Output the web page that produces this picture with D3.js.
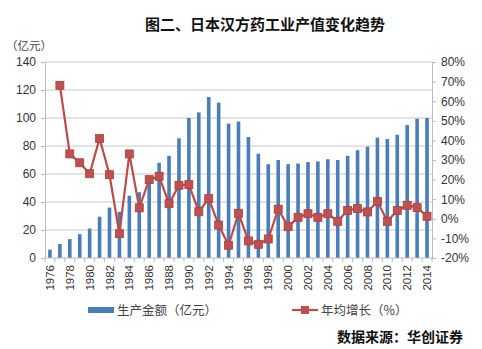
<!DOCTYPE html>
<html><head><meta charset="utf-8">
<script src="https://cdn.jsdelivr.net/npm/d3@7"></script>
<style>body{margin:0;background:#fff;}svg{display:block;}</style>
</head><body>
<script>
const years = d3.range(1976, 2015);
const production = [6,10,13.5,17,21,29.5,36,33,44.5,47,57,68,73,85.5,100,104,115,111,96,97.5,86.4,74.5,67,70,67,67.5,68.5,69,70.5,70,73,77,79.5,86,85,88,95,99.5,100];
const growthYears = d3.range(1977, 2015);
const growth = [68.1,33.1,28.6,23.0,41.0,22.5,-7.6,33.1,5.6,20.0,21.7,7.7,17.1,17.4,3.6,10.3,-3.2,-13.5,2.8,-11.3,-13.0,-10.3,4.9,-4.0,0.7,2.6,0.7,2.6,-1.3,4.3,5.2,3.5,8.9,-1.3,4.2,6.9,5.7,1.3];
const leftTicks = [0,20,40,60,80,100,120,140];
const rightTicks = [-20,-10,0,10,20,30,40,50,60,70,80];
const xLabels = years.filter(y => y % 2 === 0);

const W = 482, H = 349;
const svg = d3.select("body").append("svg").attr("width", W).attr("height", H);
const font = "'Microsoft YaHei','Noto Sans CJK SC',sans-serif";

const x = d3.scaleBand().domain(years).range([45, 432]).paddingInner(0).paddingOuter(0);
const yL = d3.scaleLinear().domain([0,140]).range([258, 62]);
const yR = d3.scaleLinear().domain([-20,80]).range([258, 62]);

// title
svg.append("text").attr("x", 265).attr("y", 30).attr("text-anchor","middle")
  .style("font-family", font).style("font-size","15px").style("font-weight","bold").attr("fill","#111")
  .text("图二、日本汉方药工业产值变化趋势");
svg.append("text").attr("x", 6).attr("y", 50)
  .style("font-family", font).style("font-size","11.5px").attr("fill","#444").text("（亿元）");

// grid
svg.append("g").selectAll("line").data(leftTicks.slice(1)).join("line")
  .attr("x1", 45).attr("x2", 432).attr("y1", d=>yL(d)).attr("y2", d=>yL(d))
  .attr("stroke","#c8c8c8").attr("stroke-width",1);

// left axis
const gl = svg.append("g").attr("transform","translate(45,0)")
  .call(d3.axisLeft(yL).tickValues(leftTicks).tickSize(4).tickSizeOuter(0));
gl.select(".domain").attr("stroke","#bbb");
gl.selectAll(".tick line").attr("stroke","#bbb");
gl.selectAll("text").style("font-family","Arial, 'Liberation Sans', sans-serif").style("font-size","12px").attr("fill","#333").attr("x",-9);

// right axis
const gr = svg.append("g").attr("transform","translate(432,0)")
  .call(d3.axisRight(yR).tickValues(rightTicks).tickFormat(d=>d+"%").tickSize(4).tickSizeOuter(0));
gr.select(".domain").attr("stroke","#bbb");
gr.selectAll(".tick line").attr("stroke","#bbb");
gr.selectAll("text").style("font-family","Arial, 'Liberation Sans', sans-serif").style("font-size","12px").attr("fill","#333").attr("x",9);

// bars
const bw = 3.6;
svg.append("g").selectAll("rect").data(years).join("rect")
  .attr("x", (d)=>x(d)+x.bandwidth()/2-bw/2).attr("width", bw)
  .attr("y", (d,i)=>yL(production[i])).attr("height",(d,i)=>yL(0)-yL(production[i]))
  .attr("fill","#4A7EBB");

// bottom axis
const gb = svg.append("g").attr("transform","translate(0,258)");
gb.append("line").attr("x1",45).attr("x2",432).attr("stroke","#bbb");
gb.selectAll("line.t").data(years.concat([2015])).join("line").attr("class","t")
  .attr("x1",d=> d===2015 ? 432 : x(d)).attr("x2",d=> d===2015 ? 432 : x(d)).attr("y1",0).attr("y2",4).attr("stroke","#bbb");
gb.selectAll("text").data(xLabels).join("text")
  .attr("transform", d=>`translate(${x(d)+x.bandwidth()/2+4},7) rotate(-90)`)
  .attr("text-anchor","end")
  .style("font-family","Arial, 'Liberation Sans', sans-serif").style("font-size","11.5px").attr("fill","#333")
  .text(d=>d);

// line
const lineColor = "#BE4B48";
const line = d3.line().x((d,i)=>x(growthYears[i])+x.bandwidth()/2).y(d=>yR(d));
svg.append("path").datum(growth).attr("d", line).attr("fill","none").attr("stroke",lineColor).attr("stroke-width",2.2);
const ms = 8;
svg.append("g").selectAll("rect").data(growth).join("rect")
  .attr("x",(d,i)=>x(growthYears[i])+x.bandwidth()/2-ms/2).attr("y",d=>yR(d)-ms/2)
  .attr("width",ms).attr("height",ms).attr("fill","#C0504D").attr("stroke","#A9403D").attr("stroke-width",0.8);

// legend
const lg = svg.append("g");
lg.append("rect").attr("x",88).attr("y",307).attr("width",26).attr("height",6).attr("fill","#4A7EBB");
lg.append("text").attr("x",117).attr("y",315).style("font-family",font).style("font-size","12.5px").attr("fill","#444").text("生产金额（亿元）");
lg.append("line").attr("x1",292).attr("x2",318).attr("y1",310).attr("y2",310).attr("stroke",lineColor).attr("stroke-width",2.2);
lg.append("rect").attr("x",301).attr("y",306).attr("width",8).attr("height",8).attr("fill","#C0504D");
lg.append("text").attr("x",321).attr("y",315).style("font-family",font).style("font-size","12.5px").attr("fill","#444").text("年均增长（%）");

svg.append("text").attr("x",463).attr("y",342).attr("text-anchor","end")
  .style("font-family",font).style("font-size","14px").style("font-weight","bold").attr("fill","#111")
  .text("数据来源：华创证券");
</script>
</body></html>
